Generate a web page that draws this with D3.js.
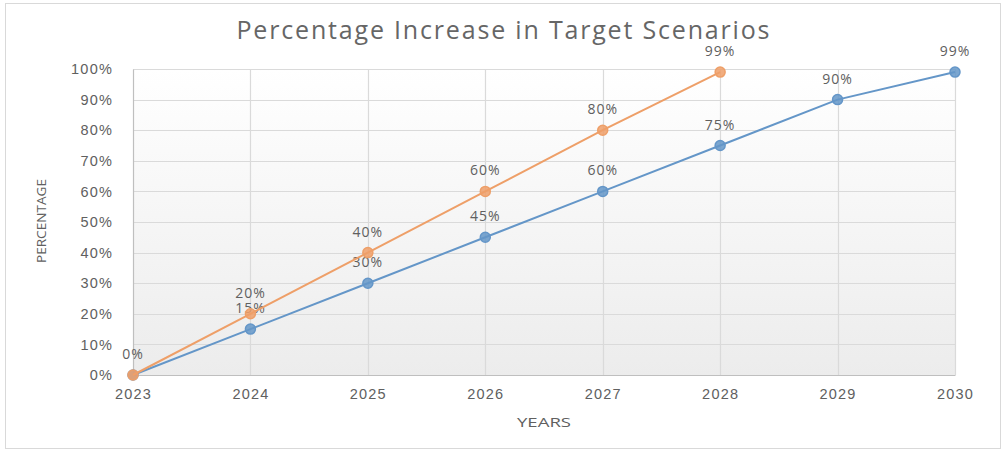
<!DOCTYPE html>
<html>
<head>
<meta charset="utf-8">
<script src="https://cdn.jsdelivr.net/npm/d3@7"></script>
<style>
  html, body { margin: 0; padding: 0; background: #ffffff; }
  svg { display: block; font-family: "Open Sans", "Noto Sans", sans-serif; }
</style>
</head>
<body>
<svg id="chart" width="1006" height="453"></svg>
<script>
// Years on the x axis
const years = ["2023", "2024", "2025", "2026", "2027", "2028", "2029", "2030"];
// Faster scenario (orange), ends in 2028
const fastScenario = [0, 20, 40, 60, 80, 99];
// Steady scenario (blue), runs to 2030
const steadyScenario = [0, 15, 30, 45, 60, 75, 90, 99];
// Y axis ticks (percent)
const yTicks = [0, 10, 20, 30, 40, 50, 60, 70, 80, 90, 100];

const titleText = "Percentage Increase in Target Scenarios";
const xTitle = "YEARS";
const yTitle = "PERCENTAGE";

const W = 1006, H = 453;
const plot = { left: 133, right: 955, top: 69, bottom: 375 };

const svg = d3.select("#chart");
const textColor = "#606060";
const gridColor = "#dadada";
const orange = "#ee9f68";
const blue = "#6496c8";

// Outer frame
svg.append("rect")
  .attr("x", 5.5).attr("y", 3.5)
  .attr("width", W - 11).attr("height", H - 8)
  .attr("fill", "#ffffff").attr("stroke", "#d9d9d9").attr("stroke-width", 1);

// Plot area gradient
const defs = svg.append("defs");
const grad = defs.append("linearGradient").attr("id", "plotBg")
  .attr("x1", 0).attr("y1", 0).attr("x2", 0).attr("y2", 1);
grad.append("stop").attr("offset", "0%").attr("stop-color", "#ffffff");
grad.append("stop").attr("offset", "100%").attr("stop-color", "#ececec");

const x = d3.scalePoint().domain(years).range([plot.left, plot.right]);
const y = d3.scaleLinear().domain([0, 100]).range([plot.bottom, plot.top]);

svg.append("rect")
  .attr("x", plot.left).attr("y", plot.top)
  .attr("width", plot.right - plot.left).attr("height", plot.bottom - plot.top)
  .attr("fill", "url(#plotBg)");

// Horizontal gridlines
svg.append("g").selectAll("line").data(yTicks.slice(1)).join("line")
  .attr("x1", plot.left).attr("x2", plot.right)
  .attr("y1", d => Math.round(y(d)) + 0.5).attr("y2", d => Math.round(y(d)) + 0.5)
  .attr("stroke", gridColor).attr("stroke-width", 1.2);

// Vertical gridlines
svg.append("g").selectAll("line").data(years.slice(1)).join("line")
  .attr("x1", d => Math.round(x(d)) + 0.5).attr("x2", d => Math.round(x(d)) + 0.5)
  .attr("y1", plot.top).attr("y2", plot.bottom)
  .attr("stroke", gridColor).attr("stroke-width", 1.2);

// Y axis
const yAxis = svg.append("g")
  .attr("transform", `translate(${plot.left},0)`)
  .call(d3.axisLeft(y).tickValues(yTicks).tickFormat(d => d + "%").tickSize(0).tickPadding(20));
yAxis.select(".domain").attr("stroke", "#bfbfbf").attr("stroke-width", 1.2);
yAxis.selectAll("text").attr("fill", textColor).attr("font-size", 14.5).attr("letter-spacing", 1.2);

// X axis
const xAxis = svg.append("g")
  .attr("transform", `translate(0,${plot.bottom})`)
  .call(d3.axisBottom(x).tickSize(0).tickPadding(14));
xAxis.select(".domain").attr("stroke", "#bfbfbf").attr("stroke-width", 1.2);
xAxis.selectAll("text").attr("fill", textColor).attr("font-size", 14.5).attr("letter-spacing", 1.2);

// Title
svg.append("text")
  .attr("x", 503).attr("y", 39)
  .attr("text-anchor", "middle")
  .attr("fill", "#666666").attr("font-size", 25)
  .attr("textLength", 533).attr("lengthAdjust", "spacing")
  .text(titleText);

// Axis titles
svg.append("text")
  .attr("x", 544).attr("y", 427)
  .attr("text-anchor", "middle")
  .attr("fill", textColor).attr("font-size", 13)
  .attr("textLength", 54).attr("lengthAdjust", "spacingAndGlyphs")
  .text(xTitle);

svg.append("text")
  .attr("transform", `translate(46,221) rotate(-90)`)
  .attr("text-anchor", "middle")
  .attr("fill", textColor).attr("font-size", 12)
  .attr("textLength", 84).attr("lengthAdjust", "spacingAndGlyphs")
  .text(yTitle);

const line = d3.line().x(d => x(d.year)).y(d => y(d.value));
const labelled = new Set();

function drawSeries(values, color, name) {
  const pts = values.map((v, i) => ({ year: years[i], value: v }));
  const g = svg.append("g").attr("class", name);
  g.append("path").datum(pts)
    .attr("d", line)
    .attr("fill", "none").attr("stroke", color).attr("stroke-width", 2);
  g.selectAll("circle").data(pts).join("circle")
    .attr("cx", d => x(d.year)).attr("cy", d => y(d.value))
    .attr("r", 5)
    .attr("fill", color).attr("fill-opacity", 0.85)
    .attr("stroke", color).attr("stroke-width", 1.5);
  // a point shared by both series carries a single label
  const toLabel = pts.filter(d => {
    const key = d.year + "|" + d.value;
    if (labelled.has(key)) return false;
    labelled.add(key);
    return true;
  });
  g.selectAll("text").data(toLabel).join("text")
    .attr("x", d => x(d.year)).attr("y", d => y(d.value) - 16)
    .attr("text-anchor", "middle")
    .attr("fill", textColor).attr("font-size", 14).attr("letter-spacing", 1)
    .text(d => d.value + "%");
}

drawSeries(steadyScenario, blue, "steady");
drawSeries(fastScenario, orange, "fast");
</script>
</body>
</html>
